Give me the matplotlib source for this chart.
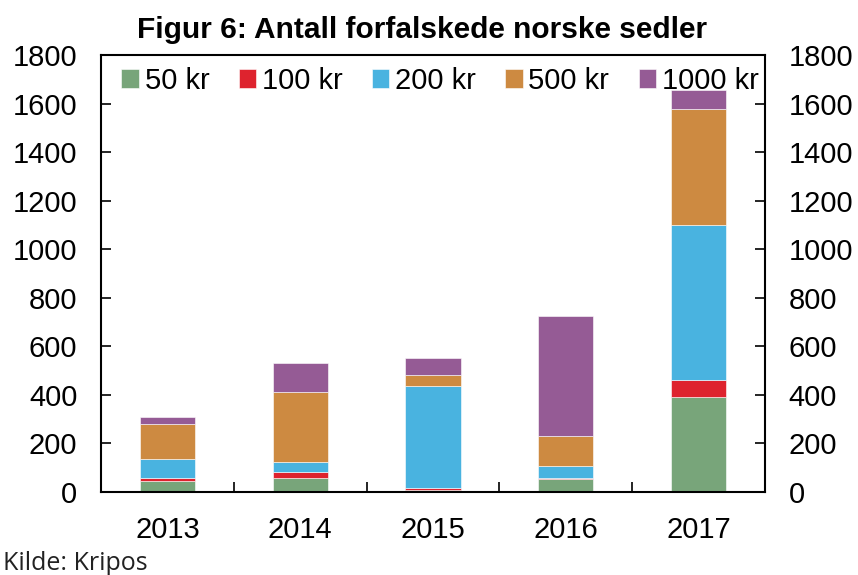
import matplotlib.pyplot as plt
import numpy as np

plt.rcParams['font.family'] = ['Liberation Sans', 'DejaVu Sans']

years = ['2013', '2014', '2015', '2016', '2017']
kr50 = [44, 57, 7, 54, 392]
kr100 = [13, 26, 9, 4, 70]
kr200 = [77, 39, 420, 48, 636]
kr500 = [148, 289, 45, 123, 478]
kr1000 = [29, 120, 72, 497, 78]

series = [
    ('50 kr', kr50, '#78A57A'),
    ('100 kr', kr100, '#DE232E'),
    ('200 kr', kr200, '#49B3E0'),
    ('500 kr', kr500, '#CD8A41'),
    ('1000 kr', kr1000, '#955B95'),
]

fig = plt.figure(figsize=(8.58, 5.75), dpi=100)
ax = fig.add_axes([0.1177, 0.1443, 0.7739, 0.76])

x = np.arange(len(years))
bottom = np.zeros(len(years))
for name, vals, col in series:
    ax.bar(x, vals, width=0.415, bottom=bottom, color=col, label=name,
           edgecolor='white', linewidth=0.4)
    bottom += np.array(vals)

ax.set_xlim(-0.5, 4.5)
ax.set_ylim(0, 1800)
ax.set_yticks(range(0, 1801, 200))
ax.set_xticks(x)
ax.set_xticklabels(years)
ax.set_xticks(x[:-1] + 0.5, minor=True)

for s in ax.spines.values():
    s.set_linewidth(1.5)

ax.tick_params(axis='y', direction='in', length=7, width=1.2, labelsize=21,
               pad=17, right=True, labelright=True)
ax.tick_params(axis='x', which='major', length=0, labelsize=21, pad=17)
ax.tick_params(axis='x', which='minor', direction='in', length=7, width=1.2)

ax.set_title('Figur 6: Antall forfalskede norske sedler', fontsize=21.5,
             fontweight='bold', pad=12, x=0.484)

ax.legend(loc='upper left', ncol=5, frameon=False, fontsize=21,
          handlelength=0.6, handleheight=0.6, handletextpad=0.2,
          columnspacing=1.0, borderaxespad=0.0, bbox_to_anchor=(0.013, 1.0))

fig.text(0.003, 0.008, 'Kilde: Kripos', fontsize=18,
         family=['Open Sans', 'DejaVu Sans'], color='#222222')

fig.savefig('out.png', dpi=100)
